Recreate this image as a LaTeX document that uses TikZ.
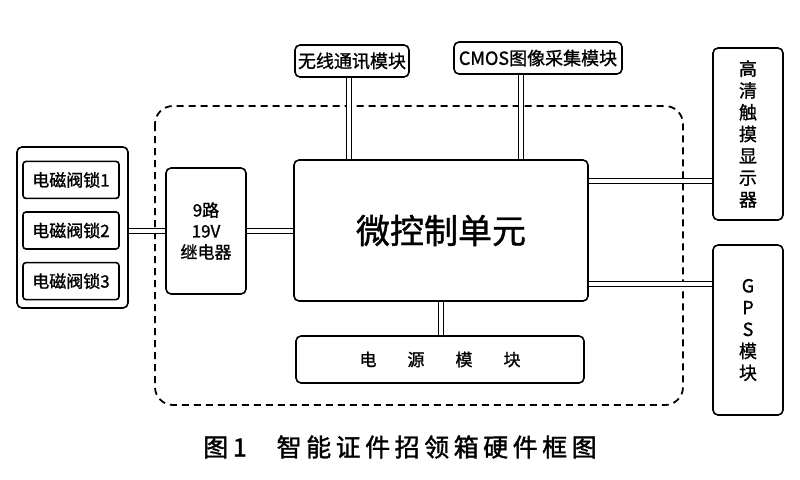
\documentclass[tikz,border=0pt]{standalone}
\usepackage{fontspec}
\setmainfont{Noto Sans CJK SC}[UprightFeatures={FakeBold=1.2}]
\newfontfamily\capfont{Noto Sans CJK SC}[LetterSpace=18,UprightFeatures={FakeBold=1.5}]
\usetikzlibrary{positioning,calc}
\tikzset{
  blk/.style ={rectangle,draw,line width=1.6pt,rounded corners=5pt,inner sep=0pt,align=center,font=\fontsize{17}{21}\selectfont},
  lock/.style={blk,rounded corners=3pt,minimum width=96pt,minimum height=37pt},
  vbox/.style={blk,minimum width=70pt,font=\fontsize{18}{21.8}\selectfont},
  link/.style={double,double distance=4pt,line width=1.2pt},
  frame/.style={line width=1.8pt,dash pattern=on 7pt off 5pt,rounded corners=18pt},
}
\begin{document}
\begin{tikzpicture}[x=1pt,y=-1pt,node distance=12pt]
  \useasboundingbox (0,0) rectangle (800,479);
  % controller board
  \draw[frame] (155,106) rectangle (683,405);
  \node[blk,minimum width=294pt,minimum height=141pt,font=\fontsize{34}{40}\selectfont] (mcu) at (441,230.5) {微控制单元};
  \node[blk,minimum width=80pt,minimum height=126pt] (relay) at (206,231) {9路\\19V\\继电器};
  \node[blk,minimum width=288pt,minimum height=47pt] (pwr) at (440,359.5) {电\hspace{31pt}源\hspace{31pt}模\hspace{31pt}块};
  % locks
  \node[blk,minimum width=111pt,minimum height=161pt] (locks) at (72.5,227.5) {};
  \node[lock] (lk2) at (71,230.5) {电磁阀锁2};
  \node[lock,above=12pt of lk2] (lk1) {电磁阀锁1};
  \node[lock,below=12pt of lk2] (lk3) {电磁阀锁3};
  % outside modules
  \node[blk,font=\fontsize{18}{21}\selectfont,minimum width=114pt,minimum height=32pt] (wifi) at (352,61) {无线通讯模块};
  \node[blk,font=\fontsize{18}{21}\selectfont,minimum width=168pt,minimum height=32pt] (cmos) at (538,58) {CMOS图像采集模块};
  \node[vbox,minimum height=172pt] (disp) at (748,134) {高\\清\\触\\摸\\显\\示\\器};
  \node[vbox,minimum height=170pt] (gps) at (748,330) {G\\P\\S\\模\\块};
  % links
  \draw[link] (locks.east |- relay) -- (relay.west);
  \draw[link] (relay.east) -- (relay.east -| mcu.west);
  \draw[link] ([xshift=-3pt]wifi.south) -- ([xshift=-3pt]wifi.south |- mcu.north);
  \draw[link] ([xshift=-17pt]cmos.south) -- ([xshift=-17pt]cmos.south |- mcu.north);
  \draw[link] ([yshift=49.5pt]mcu.east) -- ([yshift=49.5pt]mcu.east -| disp.west);
  \draw[link] ([yshift=-53.5pt]mcu.east) -- ([yshift=-53.5pt]mcu.east -| gps.west);
  \draw[link] (mcu.south) -- (mcu.south |- pwr.north);
  % caption
  \node[font=\capfont\fontsize{25}{30}\selectfont] (cap) at (400,447) {图1\hspace{30pt}智能证件招领箱硬件框图};
\end{tikzpicture}
\end{document}
